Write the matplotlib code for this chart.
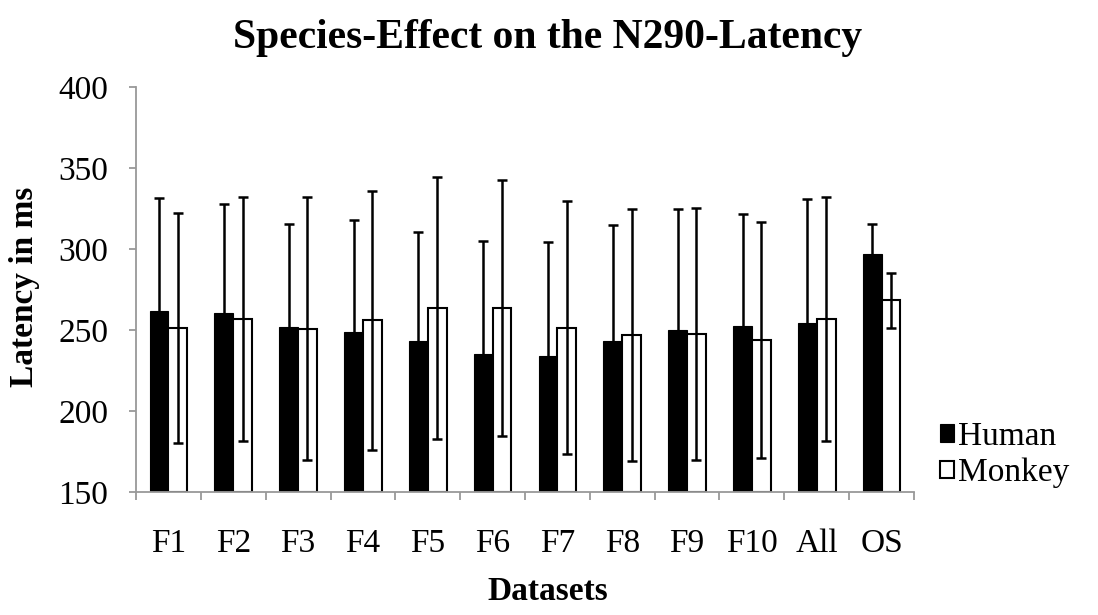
import matplotlib
matplotlib.use("Agg")
import matplotlib.pyplot as plt
import numpy as np

plt.rcParams['font.family'] = ['Liberation Serif', 'DejaVu Serif']

categories = ["F1", "F2", "F3", "F4", "F5", "F6", "F7", "F8", "F9", "F10", "All", "OS"]
human_mean = [261.9, 260.7, 251.7, 249.0, 243.2, 235.2, 234.0, 243.2, 250.2, 252.5, 254.1, 296.7]
human_err = [69.4, 67.1, 63.7, 68.7, 67.3, 69.7, 70.5, 71.8, 74.7, 69.1, 76.9, 18.7]
monkey_mean = [251.1, 256.8, 250.9, 256.0, 263.4, 263.6, 251.4, 247.0, 247.6, 244.0, 256.8, 268.3]
monkey_err = [71.1, 75.3, 81.0, 80.0, 80.9, 79.2, 78.0, 77.9, 77.7, 72.9, 75.1, 17.1]

W, H = 1098, 615
fig = plt.figure(figsize=(W / 100, H / 100), dpi=100)
ax = fig.add_axes([136 / W, (H - 492) / H, (914 - 136) / W, (492 - 87) / H])

x = np.arange(len(categories))
bw = 0.29
base = 150
err_kw = dict(ecolor="black", elinewidth=1.8, capsize=3.9, capthick=1.8)

ax.bar(x - bw / 2, np.array(human_mean) - base, bw, bottom=base, color="black",
       edgecolor="black", linewidth=0.8, label="Human", zorder=2)
ax.bar(x + bw / 2, np.array(monkey_mean) - base, bw, bottom=base, color="white",
       edgecolor="black", linewidth=1.5, label="Monkey", zorder=2)
ax.errorbar(x - bw / 2, human_mean, yerr=human_err, fmt="none", zorder=3, **err_kw)
ax.errorbar(x + bw / 2, monkey_mean, yerr=monkey_err, fmt="none", zorder=3, **err_kw)

ax.set_ylim(150, 400)
ax.set_xlim(-0.5, len(categories) - 0.5)
ax.set_yticks(np.arange(150, 401, 50))

# category boundaries carry the ticks, labels sit at the centres
ax.set_xticks(np.arange(-0.5, len(categories), 1.0))
ax.set_xticklabels([])
ax.set_xticks(x, minor=True)
ax.set_xticklabels(categories, minor=True)
ax.tick_params(axis="x", which="major", length=6, width=1.3, color="#999999", direction="out")
ax.tick_params(axis="x", which="minor", length=0, pad=26, labelsize=24)
ax.tick_params(axis="y", length=5, width=1.3, color="#999999", direction="out", pad=15, labelsize=24)

for s in ["top", "right"]:
    ax.spines[s].set_visible(False)
for s in ["left", "bottom"]:
    ax.spines[s].set_color("#999999")
    ax.spines[s].set_linewidth(1.3)

fig.text(548 / W, 1 - 38 / H, "Species-Effect on the N290-Latency", ha="center", va="center",
         fontsize=30, fontweight="bold")
fig.text(548 / W, 1 - 592 / H, "Datasets", ha="center", va="center", fontsize=24, fontweight="bold")
fig.text(25 / W, 1 - 287 / H, "Latency in ms", ha="center", va="center", rotation=90,
         fontsize=24, fontweight="bold")

fig.legend(loc="center left", bbox_to_anchor=(940 / W, 1 - 455 / H), frameon=False,
           fontsize=24, handlelength=0.42, handleheight=0.42, handletextpad=0.12,
           labelspacing=0.18, borderaxespad=0, borderpad=0)

fig.savefig("out.png", dpi=100, facecolor="white")
